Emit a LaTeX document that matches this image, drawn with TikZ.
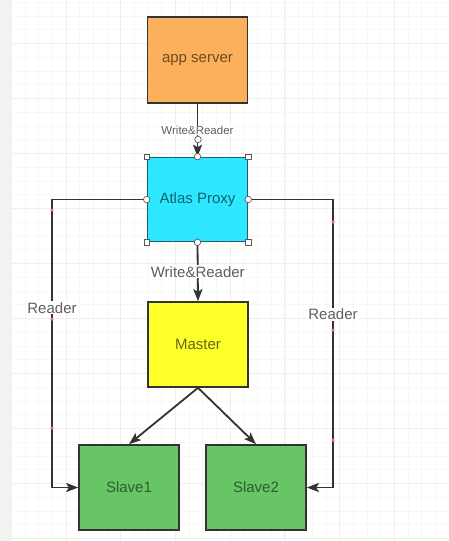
\documentclass[tikz,border=0pt]{standalone}
\usepackage{fontspec}
\setmainfont{Liberation Sans}
\usetikzlibrary{arrows.meta}
\definecolor{gridminor}{HTML}{F8F7F4}
\definecolor{gridmajor}{HTML}{F0EEE9}
\definecolor{strip}{HTML}{F2F2F0}
\definecolor{edgec}{HTML}{333333}
\definecolor{appfill}{HTML}{FBB05C}
\definecolor{apptext}{HTML}{6E4C1E}
\definecolor{proxyfill}{HTML}{2DE6FF}
\definecolor{proxytext}{HTML}{10606F}
\definecolor{proxyborder}{HTML}{235F6B}
\definecolor{masterfill}{HTML}{FFFF2A}
\definecolor{mastertext}{HTML}{66661A}
\definecolor{slavefill}{HTML}{67C567}
\definecolor{slavetext}{HTML}{2B5E2B}
\definecolor{labeltext}{HTML}{5E5E5E}
\definecolor{waypoint}{HTML}{E07A6A}
\tikzset{
  box/.style={draw=edgec, line width=1.6pt, minimum width=100pt, minimum height=85pt,
    inner sep=0pt, font=\fontsize{15}{18}\selectfont},
  conn/.style={draw=edgec, line width=1.8pt, -{Stealth[length=12pt,width=9pt,inset=2.5pt]}},
  elabel/.style={fill=white, inner sep=1pt, text=labeltext, font=\fontsize{15}{18}\selectfont},
  slabel/.style={fill=white, inner sep=0.5pt, text=labeltext, font=\fontsize{11.5}{13}\selectfont},
  handlesq/.style={draw=gray!70!black, fill=white, line width=0.7pt, minimum size=5.5pt, inner sep=0pt},
  handleci/.style={draw=gray!70!black, fill=white, line width=0.7pt, circle, minimum size=6.5pt, inner sep=0pt},
  wdot/.style={fill=waypoint, circle, minimum size=3.5pt, inner sep=0pt}
}
\begin{document}
\begin{tikzpicture}[x=1pt,y=-1pt]
\useasboundingbox (0,0) rectangle (449,541);
% canvas background with grid
\fill[white] (0,0) rectangle (449,541);
\foreach \i in {0,...,32} {\draw[gridminor, line width=0.6pt] ({11.3+13.675*\i},0) -- ({11.3+13.675*\i},541);}
\foreach \j in {0,...,39} {\draw[gridminor, line width=0.6pt] (0,{2.05+13.75*\j}) -- (449,{2.05+13.75*\j});}
\foreach \k in {0,...,8} {\draw[gridmajor, line width=0.8pt] ({11.3+54.7*\k},0) -- ({11.3+54.7*\k},541);}
\foreach \k in {0,...,9} {\draw[gridmajor, line width=0.8pt] (0,{43.3+55*\k}) -- (449,{43.3+55*\k});}
\fill[strip] (0,0) rectangle (12,541);

% boxes
\node[box, fill=appfill, text=apptext, minimum height=86pt] (app) at (197.5,60) {app server};
\node[box, fill=proxyfill, text=proxytext, draw=proxyborder, minimum height=84pt] (proxy) at (197.5,199.5) {Atlas Proxy};
\node[box, fill=masterfill, text=mastertext] (master) at (198,344.5) {Master};
\node[box, fill=slavefill, text=slavetext] (slave1) at (129,487.5) {Slave1};
\node[box, fill=slavefill, text=slavetext] (slave2) at (256,487.5) {Slave2};

% connectors
\coordinate (lc) at (52,199.5);
\coordinate (rc) at (333,199.5);
\draw[conn] (app.south) -- node[slabel, pos=0.5] {Write\&Reader} (proxy.north);
\draw[conn] (proxy.south) -- node[elabel, pos=0.5] {Write\&Reader} (master.north);
\draw[conn] (master.south) -- (slave1.north);
\draw[conn] (master.south) -- (slave2.north);
\draw[conn] (proxy.west) -- (lc) |- node[elabel, pos=0.188] {Reader} (slave1.west);
\draw[conn] (proxy.east) -- (rc) |- node[elabel, pos=0.199] {Reader} (slave2.east);

% waypoint markers
\foreach \y [count=\n] in {210,319,428} {\node[wdot] (lw\n) at (52,\y) {};}
\foreach \y [count=\n] in {222,330,440} {\node[wdot] (rw\n) at (333,\y) {};}

% selection handles
\node[handleci] (h0) at (198,139.5) {};
\node[handlesq] (h1) at (proxy.north west) {};
\node[handlesq] (h2) at (proxy.north east) {};
\node[handlesq] (h3) at (proxy.south west) {};
\node[handlesq] (h4) at (proxy.south east) {};
\node[handleci] (h5) at (proxy.north) {};
\node[handleci] (h6) at (proxy.south) {};
\node[handleci] (h7) at (proxy.west) {};
\node[handleci] (h8) at (proxy.east) {};
\end{tikzpicture}
\end{document}
